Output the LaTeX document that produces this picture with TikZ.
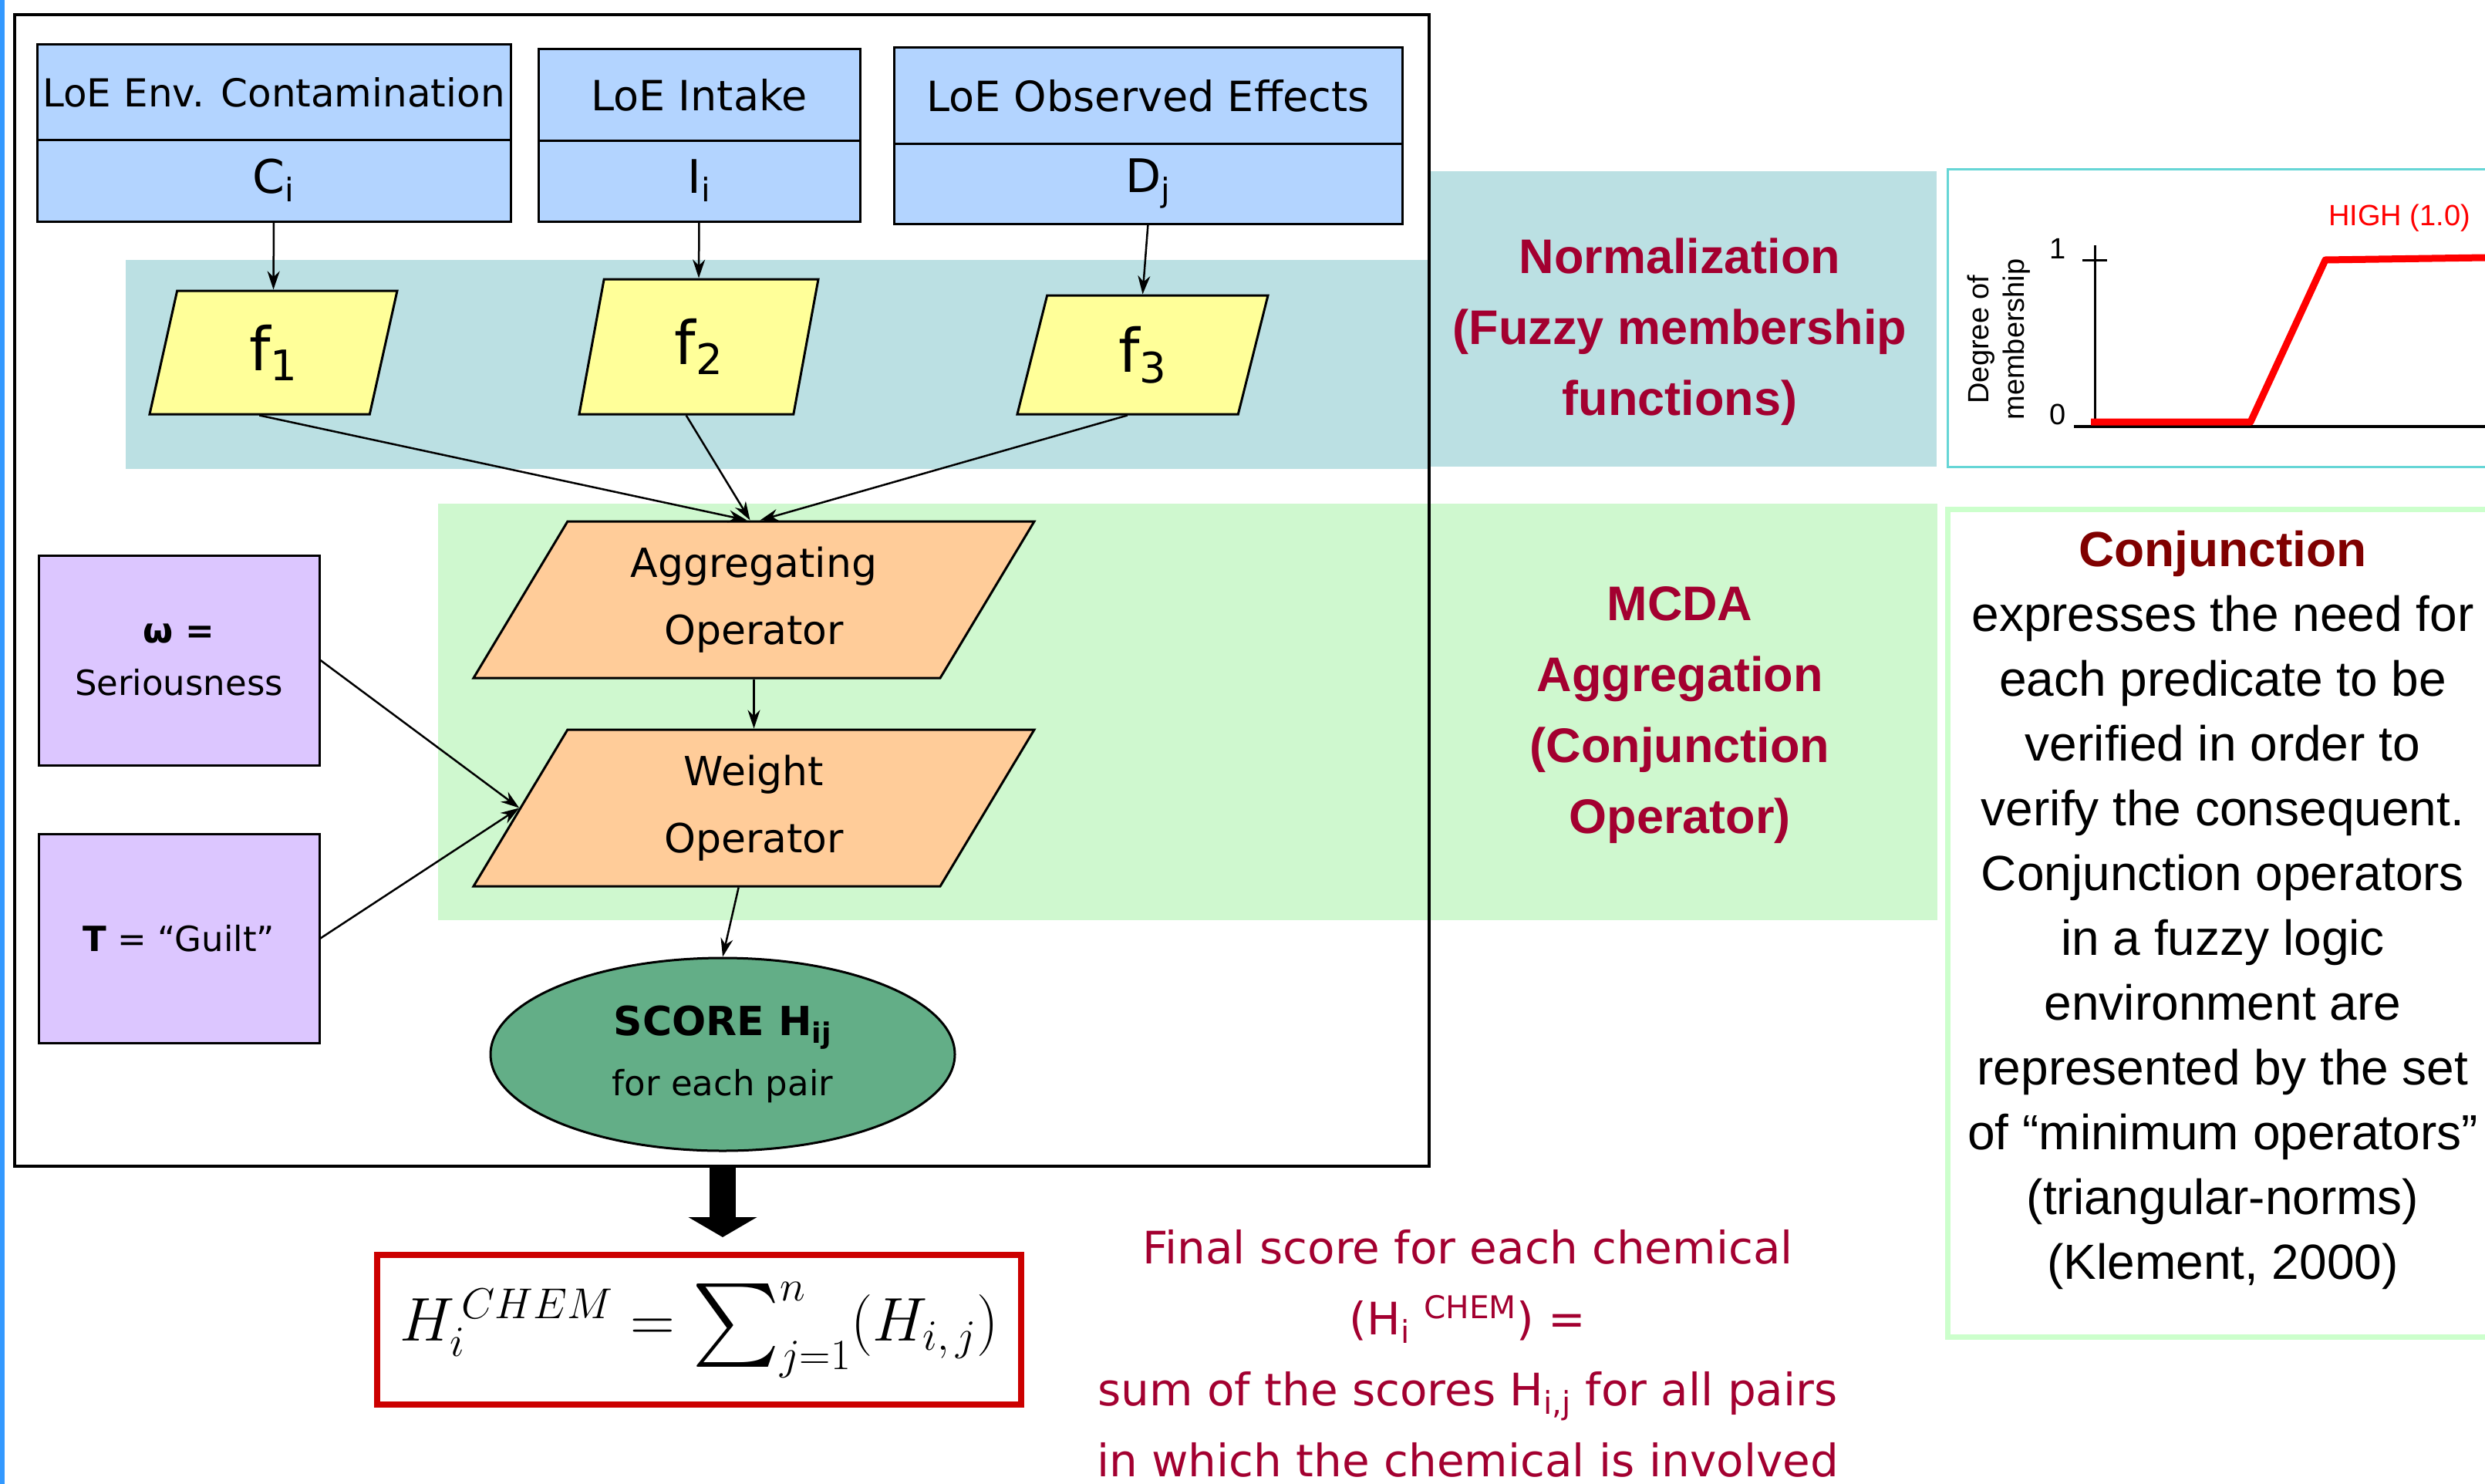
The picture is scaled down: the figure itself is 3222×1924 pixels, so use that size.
\RequirePackage{fix-cm}
\documentclass[tikz,border=0pt]{standalone}
\usepackage{fontspec}
\usetikzlibrary{calc,positioning,shapes.geometric,arrows.meta}
\newfontfamily\comicfont{DejaVu Sans}
\newfontfamily\arialfont{Liberation Sans}
\newcommand{\bigsum}{\mathop{\vcenter{\hbox{\fontsize{10}{12}\selectfont\scalebox{10.8}{$\textstyle\sum$}}}}\nolimits}
\definecolor{stripblue}{HTML}{3399FF}
\definecolor{normteal}{HTML}{BBE0E3}
\definecolor{mcdagreen}{HTML}{CFF8CF}
\definecolor{loeblue}{HTML}{B3D4FF}
\definecolor{fuzzyyellow}{HTML}{FFFF99}
\definecolor{oppeach}{HTML}{FFCC99}
\definecolor{parpurple}{HTML}{DCC6FF}
\definecolor{scoregreen}{HTML}{63AE87}
\definecolor{textred}{HTML}{A30030}
\definecolor{conjred}{HTML}{800000}
\definecolor{chartcyan}{HTML}{66D6D6}
\definecolor{conjgreen}{HTML}{CCFFCC}
\definecolor{formred}{HTML}{CC0000}
\begin{document}
\begin{tikzpicture}[x=1pt,y=-1pt]
\tikzset{
  loetop/.style={draw=black,line width=3pt,fill=loeblue,inner sep=0pt,outer sep=0pt,font={\comicfont\fontsize{54}{60}\selectfont}},
  loevar/.style={loetop,font={\comicfont\fontsize{60}{66}\selectfont}},
  fuzzybox/.style 2 args={trapezium,trapezium left angle=#1,trapezium right angle=#2,trapezium stretches body,draw=black,line width=3pt,fill=fuzzyyellow,inner sep=0pt,font={\comicfont\fontsize{78}{80}\selectfont}},
  opbox/.style={trapezium,trapezium left angle=48.4,trapezium right angle=131.6,trapezium stretches body,draw=black,line width=3pt,fill=oppeach,inner sep=0pt,minimum width=727pt,minimum height=203pt,align=center,font={\comicfont\fontsize{52}{87}\selectfont}},
  parbox/.style={draw=black,line width=3pt,fill=parpurple,minimum width=364pt,minimum height=272pt,align=center,font={\comicfont\fontsize{45}{68}\selectfont}},
  flow/.style={draw=black,line width=2.5pt,-{Stealth[length=24pt,width=16pt]}},
  band/.style={font={\arialfont\bfseries\fontsize{63}{92}\selectfont},text=textred,align=center},
  chartlabel/.style={font={\arialfont\fontsize{38}{46}\selectfont}},
}
\useasboundingbox (0,0) rectangle (3222,1924);
\fill[stripblue] (0,0) rectangle (6,1924);

% bands
\fill[normteal] (163,337) rectangle (1855,608);
\fill[normteal] (1855,222) rectangle (2511,605);
\fill[mcdagreen] (568,653) rectangle (2512,1193);
\node[draw=black,line width=4pt,minimum width=1834pt,minimum height=1493pt,inner sep=0pt] (frame) at (936,765.5) {};

% lines of evidence
\node[loetop,minimum width=614pt,minimum height=123pt,anchor=north west,font={\comicfont\fontsize{50}{56}\selectfont}] (envtop) at (48,58) {LoE Env. Contamination};
\node[loevar,minimum width=614pt,minimum height=106pt,below=0pt of envtop] (env) {C\textsubscript{i}};
\node[loetop,minimum width=417pt,minimum height=118pt,anchor=north west] (intop) at (698,64) {LoE Intake};
\node[loevar,minimum width=417pt,minimum height=105pt,below=0pt of intop] (intake) {I\textsubscript{i}};
\node[loetop,minimum width=659pt,minimum height=124pt,anchor=north west] (obstop) at (1159,62) {LoE Observed Effects};
\node[loevar,minimum width=659pt,minimum height=104pt,below=0pt of obstop] (obs) {D\textsubscript{j}};

\node[fuzzybox={63.7}{116.3},minimum width=321pt,minimum height=160pt] (f1) at (354.5,457) {f\textsubscript{1}};
\node[fuzzybox={66.2}{113.8},minimum width=310pt,minimum height=175pt] (f2) at (906,449.5) {f\textsubscript{2}};
\node[fuzzybox={62.3}{117.7},minimum width=325pt,minimum height=154pt] (f3) at (1481.5,460) {f\textsubscript{3}};

\node[opbox] (agg) at (977.5,777.5) {Aggregating\\Operator};
\node[opbox] (weight) at (977.5,1047.5) {Weight\\Operator};

\node[parbox] (omega) at (232,856) {\textbf{ω =}\\Seriousness};
\node[parbox,minimum height=271pt] (guilt) at (232,1216.5) {\textbf{T} = “Guilt”};

\node[ellipse,draw=black,line width=3pt,fill=scoregreen,minimum width=602pt,minimum height=250pt,inner sep=0pt,align=center,font={\comicfont\fontsize{45}{78}\selectfont}] (score) at (937,1367) {{\fontsize{52}{60}\selectfont\bfseries SCORE H\textsubscript{ij}}\\for each pair};

\node[draw=formred,line width=8pt,minimum width=835pt,minimum height=194pt,inner sep=0pt,font=\fontsize{80}{84}\selectfont] (chem) at (906.5,1724) {$H_i^{\,CHEM} = \bigsum_{j=1}^{n}(H_{i,\,j})$};

\node[align=center,text=textred,font={\comicfont\fontsize{58}{92}\selectfont}] (final) at (1903,1755) {Final score for each chemical\\(H\textsubscript{i} \textsuperscript{CHEM}) =\\sum of the scores H\textsubscript{i,j} for all pairs\\in which the chemical is involved};

\node[band] (norm) at (2178,430) {Normalization\\(Fuzzy membership\\functions)};
\node[band] (mcda) at (2178,927) {MCDA\\Aggregation\\(Conjunction\\Operator)};

% membership chart
\draw[chartcyan,line width=3pt] (2525,219) rectangle (3240,605);
\draw[line width=3pt] (2716,318) -- (2716,555);
\draw[line width=3pt] (2700,337) -- (2732,337);
\draw[line width=4pt] (2689,553) -- (3222,553);
\draw[red,line width=9pt,line join=round] (2711,547) -- (2918,547) -- (3015,337) -- (3222,334);
\node[chartlabel] (one) at (2668,322) {1};
\node[chartlabel] (zero) at (2668,537) {0};
\node[chartlabel,rotate=90,align=center] (degree) at (2592,440) {Degree of\\membership};
\node[chartlabel,text=red] (high) at (3111,283) {HIGH (1.0)};

\draw[conjgreen,line width=7pt] (2525,660) rectangle (3240,1733);
\node[align=center,font={\arialfont\fontsize{64}{84}\selectfont}] (conj) at (2882,1180) {\textcolor{conjred}{\bfseries Conjunction}\\expresses the need for\\each predicate to be\\verified in order to\\verify the consequent.\\Conjunction operators\\in a fuzzy logic\\environment are\\represented by the set\\of “minimum operators”\\(triangular-norms)\\(Klement, 2000)};

% connectors
\draw[flow] (env.south) -- (f1.center |- f1.top side);
\draw[flow] (intake.south) -- (f2.center |- f2.top side);
\draw[flow] (obs.south) -- (f3.center |- f3.top side);
\coordinate (aggin) at (agg.center |- agg.top side);
\draw[flow] (f1.bottom side) -- ($(aggin)+(-9,0)$);
\draw[flow] (f2.bottom side) -- ($(aggin)+(-5,0)$);
\draw[flow] (f3.bottom side) -- ($(aggin)+(8,0)$);
\draw[flow] (agg.center |- agg.bottom side) -- (weight.center |- weight.top side);
\draw[flow] (omega.east) -- (weight.left side);
\draw[flow] (guilt.east) -- (weight.left side);
\draw[flow] ($(weight.bottom side)+(42,0)$) -- (score.north);
\draw[line width=34pt,-{Triangle[length=26pt,width=88pt]},shorten >=19pt] (score.south |- frame.south) -- (score.south |- chem.north);
\end{tikzpicture}
\end{document}
